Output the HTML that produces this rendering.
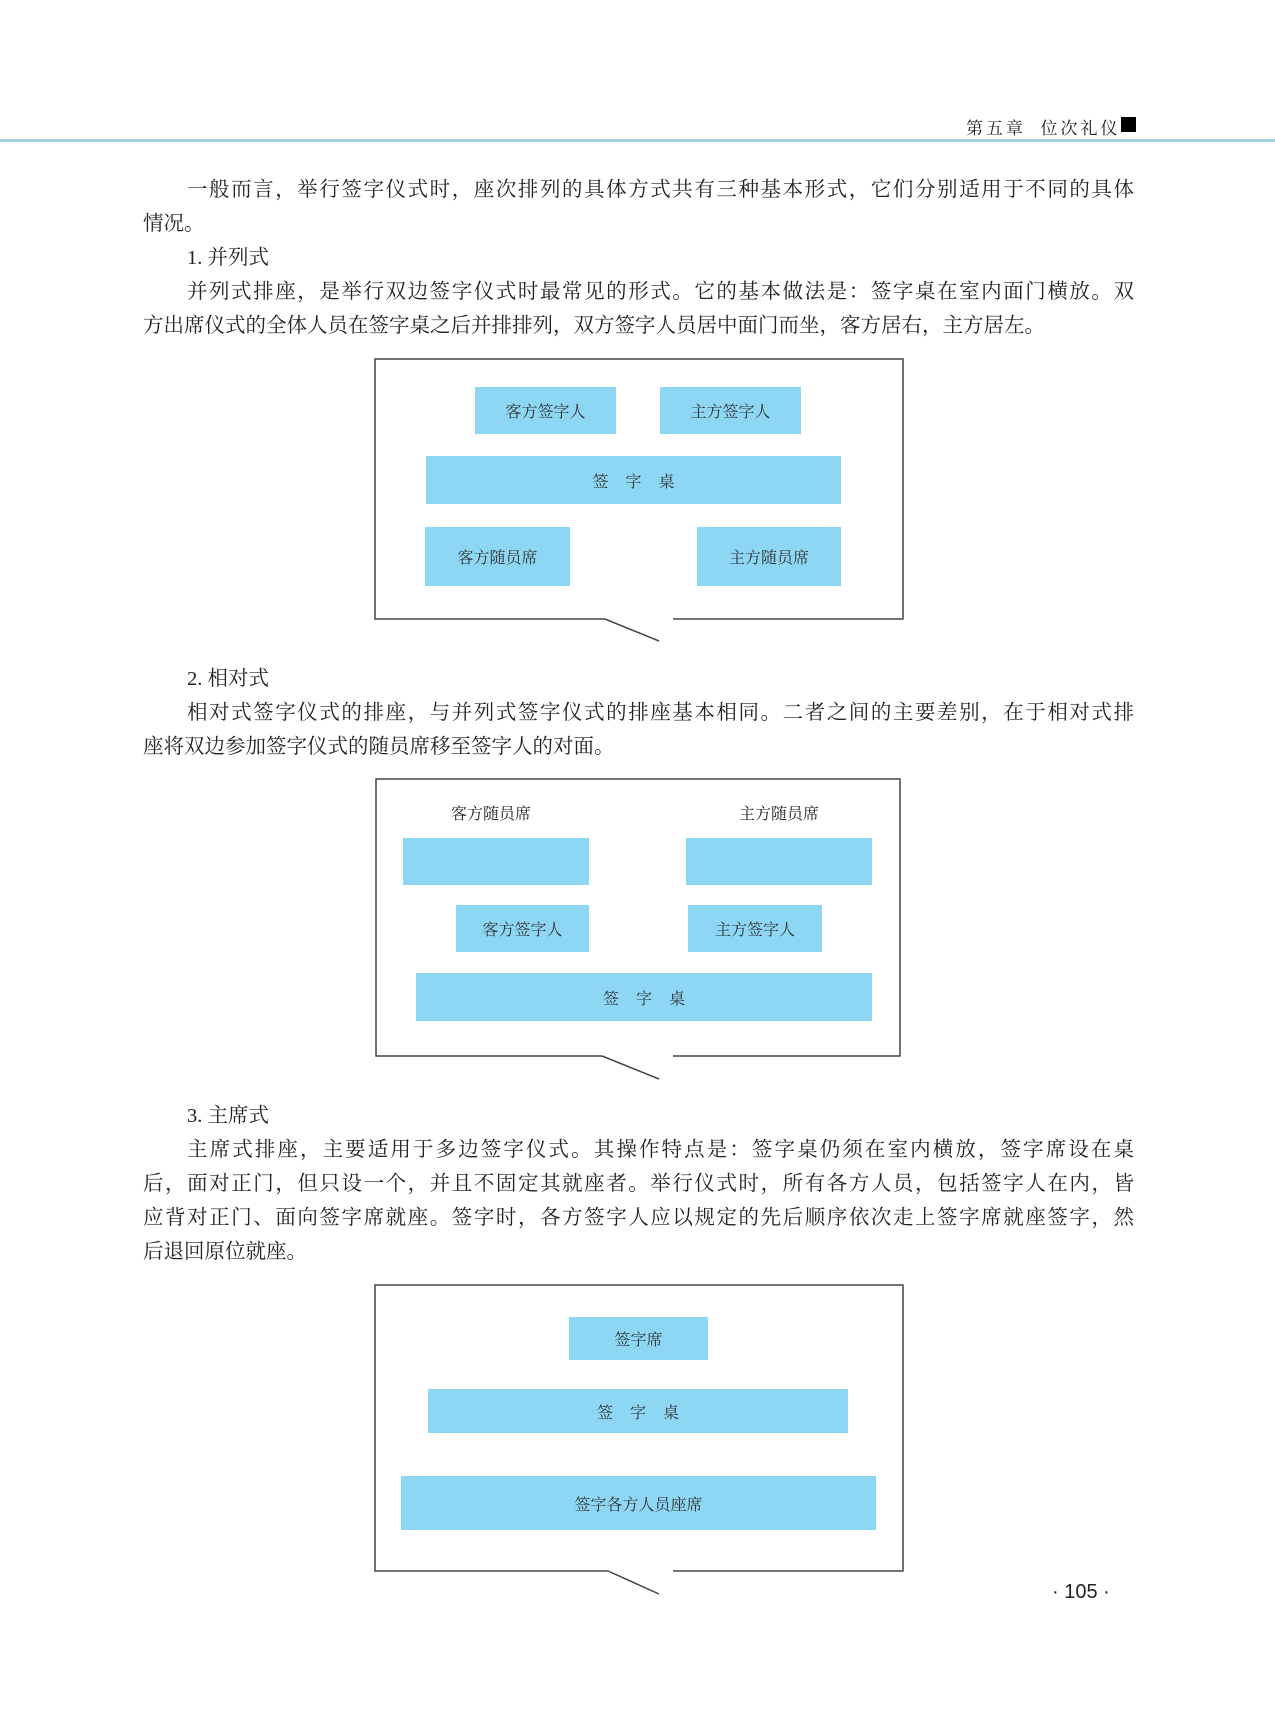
<!DOCTYPE html>
<html><head><meta charset="utf-8"><style>
body{margin:0;width:1275px;height:1718px;background:#fff;position:relative;overflow:hidden;font-family:"Liberation Serif","Noto Serif CJK SC",serif;color:#222}
.a{position:absolute;white-space:nowrap}
.t{position:absolute;font-size:20.5px;line-height:34px;white-space:nowrap}
.j{text-align:justify;text-align-last:justify;width:947px;left:187px}
.f{left:143px;width:991px}
.b{position:absolute;background:#8dd7f5;display:flex;align-items:center;justify-content:center;font-size:16px;color:#333}
.s{letter-spacing:17px;padding-left:17px;box-sizing:border-box}
</style></head><body>
<div class="a" style="left:966px;top:114px;font-size:17px;letter-spacing:3px">第五章&nbsp;&nbsp;位次礼仪</div>
<div class="a" style="left:1121px;top:117px;width:15px;height:15px;background:#000"></div>
<div class="a" style="left:0;top:139px;width:1275px;height:3px;background:#9dd3e2"></div>

<div class="t j" style="top:173px">一般而言，举行签字仪式时，座次排列的具体方式共有三种基本形式，它们分别适用于不同的具体</div>
<div class="t" style="left:143px;top:207px">情况。</div>
<div class="t" style="left:187px;top:241px">1.&nbsp;并列式</div>
<div class="t j" style="top:275px">并列式排座，是举行双边签字仪式时最常见的形式。它的基本做法是：签字桌在室内面门横放。双</div>
<div class="t" style="left:143px;top:309px">方出席仪式的全体人员在签字桌之后并排排列，双方签字人员居中面门而坐，客方居右，主方居左。</div>

<svg class="a" style="left:0;top:0" width="1275" height="1718">
<g fill="none" stroke="#444" stroke-width="1.5">
<polyline points="605,619 375,619 375,359 903,359 903,619 673,619"/>
<line x1="605" y1="619" x2="659" y2="641"/>
<polyline points="602,1056 376,1056 376,779 900,779 900,1056 673,1056"/>
<line x1="602" y1="1056" x2="659" y2="1079"/>
<polyline points="608,1571 375,1571 375,1285 903,1285 903,1571 673,1571"/>
<line x1="608" y1="1571" x2="659" y2="1594"/>
</g></svg>

<div class="b" style="left:475px;top:387px;width:141px;height:47px">客方签字人</div>
<div class="b" style="left:660px;top:387px;width:141px;height:47px">主方签字人</div>
<div class="b s" style="left:426px;top:456px;width:415px;height:48px">签字桌</div>
<div class="b" style="left:425px;top:527px;width:145px;height:59px">客方随员席</div>
<div class="b" style="left:697px;top:527px;width:144px;height:59px">主方随员席</div>

<div class="t" style="left:187px;top:662px">2.&nbsp;相对式</div>
<div class="t j" style="top:696px">相对式签字仪式的排座，与并列式签字仪式的排座基本相同。二者之间的主要差别，在于相对式排</div>
<div class="t" style="left:143px;top:730px">座将双边参加签字仪式的随员席移至签字人的对面。</div>

<div class="a" style="left:451px;top:801px;font-size:16px;width:80px;text-align:center">客方随员席</div>
<div class="a" style="left:739px;top:801px;font-size:16px;width:80px;text-align:center">主方随员席</div>
<div class="b" style="left:403px;top:838px;width:186px;height:47px"></div>
<div class="b" style="left:686px;top:838px;width:186px;height:47px"></div>
<div class="b" style="left:456px;top:905px;width:133px;height:47px">客方签字人</div>
<div class="b" style="left:688px;top:905px;width:134px;height:47px">主方签字人</div>
<div class="b s" style="left:416px;top:973px;width:456px;height:48px">签字桌</div>

<div class="t" style="left:187px;top:1099px">3.&nbsp;主席式</div>
<div class="t j" style="top:1133px">主席式排座，主要适用于多边签字仪式。其操作特点是：签字桌仍须在室内横放，签字席设在桌</div>
<div class="t j f" style="top:1167px">后，面对正门，但只设一个，并且不固定其就座者。举行仪式时，所有各方人员，包括签字人在内，皆</div>
<div class="t j f" style="top:1201px">应背对正门、面向签字席就座。签字时，各方签字人应以规定的先后顺序依次走上签字席就座签字，然</div>
<div class="t" style="left:143px;top:1235px">后退回原位就座。</div>

<div class="b" style="left:569px;top:1317px;width:139px;height:43px">签字席</div>
<div class="b s" style="left:428px;top:1389px;width:420px;height:44px">签字桌</div>
<div class="b" style="left:401px;top:1476px;width:475px;height:54px">签字各方人员座席</div>

<div class="a" style="left:1052px;top:1581px;font-family:'Liberation Sans',sans-serif;font-size:20px">·&nbsp;105&nbsp;·</div>
</body></html>
